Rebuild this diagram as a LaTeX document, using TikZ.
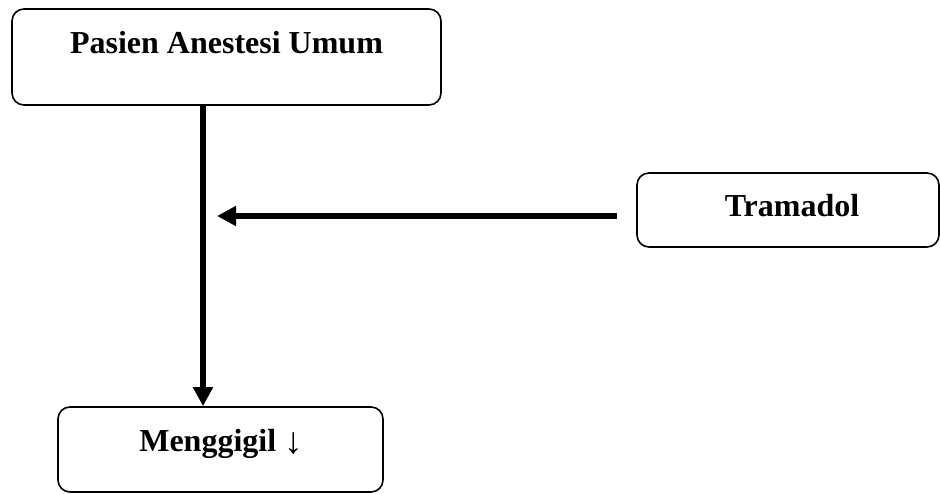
\documentclass[tikz,border=0pt]{standalone}
\usepackage{fontspec}
\setmainfont{Liberation Serif}
\usetikzlibrary{arrows.meta}
\begin{document}
\begin{tikzpicture}[x=1pt,y=-1pt,
  box/.style={draw=black, line width=1.6pt, rounded corners=12pt, inner sep=0pt},
  lbl/.style={anchor=base, inner sep=0pt, font=\fontsize{32}{38}\selectfont\bfseries},
  flow/.style={line width=6pt, -{Triangle[length=19pt,width=19pt]}}]
  \useasboundingbox (0,0) rectangle (940,493);
  % boxes
  \node[box, minimum width=429pt, minimum height=96pt] (pasien) at (226.5,57) {};
  \node[box, minimum width=302pt, minimum height=74pt] (tramadol) at (788,210) {};
  \node[box, minimum width=325pt, minimum height=85pt] (menggigil) at (220.5,449.5) {};
  % labels
  \node[lbl] (pasienT) at (226.5,53) {Pasien Anestesi Umum};
  \node[lbl] (tramadolT) at (792,216) {Tramadol};
  \node[lbl] (menggigilT) at (221,451) {Menggigil {\mdseries\fontsize{37}{40}\selectfont\raisebox{-2pt}{↓}}};
  % connectors
  \coordinate (mainx) at (203,0);
  \draw[flow] (pasien.south -| mainx) -- (menggigil.north -| mainx);
  \coordinate (tstart) at (617,216);
  \coordinate (tend) at (217,216);
  \draw[flow] (tstart) -- (tend);
\end{tikzpicture}
\end{document}
